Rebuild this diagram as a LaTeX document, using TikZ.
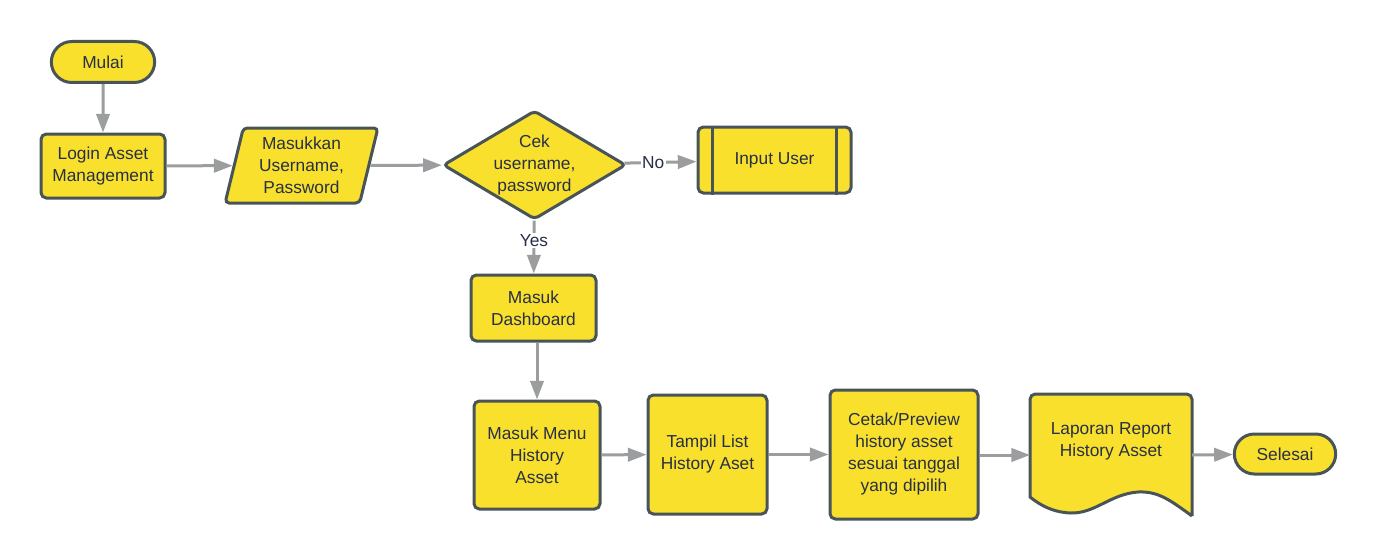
\documentclass[tikz,border=0pt]{standalone}
\usepackage{fontspec}
\setmainfont{Liberation Sans}
\usepackage{tikz}
\usetikzlibrary{shapes}
\usetikzlibrary{shapes.geometric,shapes.misc}
\usetikzlibrary{arrows.meta}
\usetikzlibrary{calc}
\usepackage{xcolor}
\definecolor{boxfill}{RGB}{249,224,45}
\definecolor{boxline}{RGB}{72,84,88}
\definecolor{boxtext}{RGB}{40,48,68}
\definecolor{arrowgray}{RGB}{155,157,159}
\tikzset{
base/.style={draw=boxline,fill=boxfill,line width=2.25pt,text=boxtext,font=\fontsize{13pt}{16.5pt}\selectfont,align=center,inner sep=1pt},
term/.style={base,rounded rectangle},
proc/.style={base,rectangle,rounded corners=4pt},
io/.style={base,trapezium,trapezium left angle=77,trapezium right angle=103,trapezium stretches=true,rounded corners=3pt},
decide/.style={base,diamond,aspect=1.68,inner sep=0pt,rounded corners=3pt},
arr/.style={draw=arrowgray,line width=2.25pt,-{Triangle[length=14pt,width=10pt]}},
lbl/.style={fill=white,text=boxtext,font=\fontsize{13pt}{16.5pt}\selectfont,inner sep=1pt}
}

\begin{document}
\begin{tikzpicture}[x=0.75pt,y=-0.75pt]
\useasboundingbox (0,0) rectangle (1377,560);
\node[term,minimum width=79.5pt,minimum height=30.75pt] (mulai) at (103,62) {Mulai};
\node[proc,minimum width=93pt,minimum height=48pt] (login) at (103,166) {Login Asset\\Management};
\node[io,minimum width=114.75pt,minimum height=56.25pt] (masuk) at (301.5,165.5) {Masukkan\\Username,\\Password};
\node[decide] (cek) at (534.5,165) {Cek\\username,\\password};
\node[proc,minimum width=114.75pt,minimum height=49.5pt] (input) at (774.5,160) {Input User};
\draw[draw=boxline,line width=2.25pt] ([xshift=12pt]input.north west) -- ([xshift=12pt]input.south west);
\draw[draw=boxline,line width=2.25pt] ([xshift=-12pt]input.north east) -- ([xshift=-12pt]input.south east);
\node[proc,minimum width=93.75pt,minimum height=49.5pt] (dash) at (533.5,308) {Masuk\\Dashboard};
\node[proc,minimum width=94.5pt,minimum height=81pt] (menu) at (537,455) {Masuk Menu\\History\\Asset};
\node[proc,minimum width=89.25pt,minimum height=89.25pt] (tampil) at (707.5,454.5) {Tampil List\\History Aset};
\node[proc,minimum width=111pt,minimum height=96.75pt] (cetak) at (904,454.5) {Cetak/Preview\\history asset\\sesuai tanggal\\yang dipilih};
\draw[draw=boxline,fill=boxfill,line width=2.25pt] (1192,516) .. controls (1170,500) and (1158,491) .. (1138,492) .. controls (1110,494) and (1095,514) .. (1070,513) .. controls (1052,512) and (1040,505) .. (1030,497) [rounded corners=4pt] -- (1030,394) -- (1192,394) -- (1192,516);
\node[base,draw=none,fill=none] (lap) at (1111,441) {Laporan Report\\History Asset};
\coordinate (lapin) at (1030,455);
\coordinate (lapout) at (1192,455);
\node[term,minimum width=78pt,minimum height=30pt] (selesai) at (1285,454) {Selesai};

\draw[arr] (mulai) -- (login);
\draw[arr] (login) -- (masuk);
\draw[arr] (masuk) -- (cek);
\draw[arr] (cek) -- node[lbl,pos=0.4] (no) {No} (input);
\draw[arr] (cek) -- node[lbl,pos=0.38] (yes) {Yes} (dash);
\draw[arr] (dash.south -| menu.north) -- (menu.north);
\draw[arr] (menu) -- (tampil);
\draw[arr] (tampil) -- (cetak);
\draw[arr] (cetak.east |- lapin) -- (lapin);
\draw[arr] (lapout) -- (selesai);
\end{tikzpicture}
\end{document}
